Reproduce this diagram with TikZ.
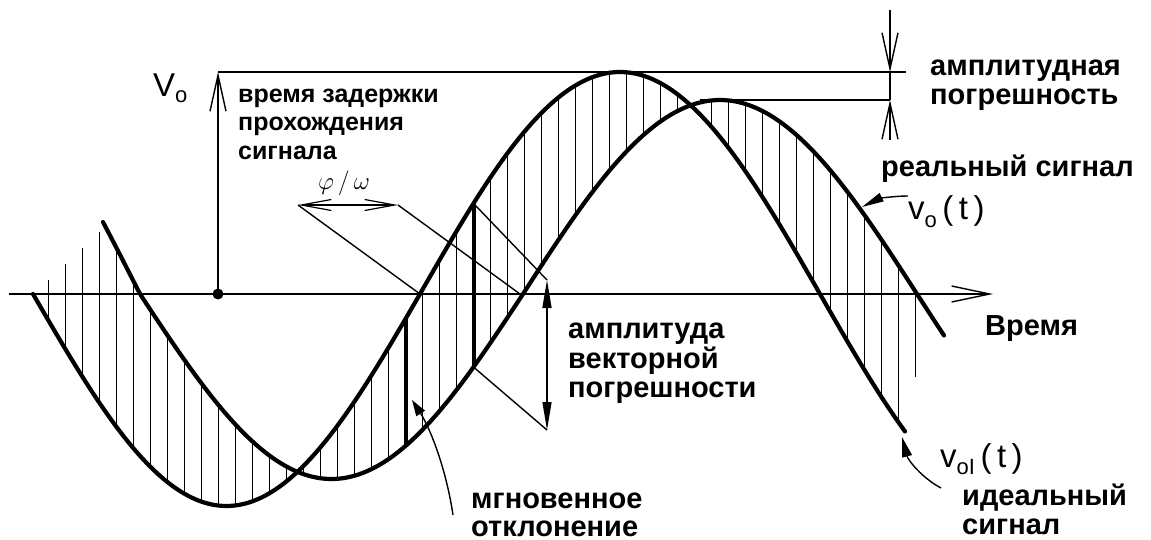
\documentclass[tikz,border=0pt]{standalone}
\usepackage{fontspec}
\setmainfont{Liberation Sans}
\usetikzlibrary{arrows.meta}
\begin{document}
\begin{tikzpicture}[x=1pt,y=-1pt,
  declare function={
    idsig(\t)=(\t<420)?(294+212*sin((\t-33)*0.465116)):(294-222*sin((\t-420)*0.45));
    resig(\t)=(\t<523)?(294+185*sin((\t-140)*0.469974)-(\t<140?(140-\t)*0.45:0)):(294-194*sin((\t-523)*0.456853));
  }]
\tikzset{
  curve/.style={line width=4.2pt,line cap=round,line join=round},
  hatchline/.style={line width=1.3pt},
  thickhatch/.style={line width=4pt},
  thinline/.style={line width=1.4pt},
  barb/.style={-{Straight Barb[length=36pt,width=16pt,line width=1.4pt]}},
  smallbarb/.style={{Straight Barb[length=30pt,width=11pt,line width=1.2pt]}-{Straight Barb[length=30pt,width=11pt,line width=1.2pt]}},
  lbl/.style={font=\bfseries\fontsize{29}{29}\selectfont,anchor=base west,inner sep=0pt},
  lblA/.style={font=\bfseries\fontsize{25}{25}\selectfont,anchor=base west,inner sep=0pt},
  sym/.style={font=\fontsize{33}{33}\selectfont,anchor=base west,inner sep=0pt},
  dot/.style={circle,fill=black,inner sep=0pt,minimum size=11pt},
}
\useasboundingbox (0,0) rectangle (1151,540);

% hatching
\foreach \k in {0,...,51}{
  \pgfmathsetmacro\hx{48.5+17*\k}
  \pgfmathsetmacro\ya{\hx<103 ? 280-(\hx-48.5)*0.95 : (\hx>905 ? resig(\hx) : idsig(\hx))}
  \pgfmathsetmacro\yb{\hx<103 ? idsig(\hx) : (\hx>905 ? 377 : resig(\hx))}
  \draw[hatchline] (\hx,\ya) -- (\hx,\yb);
}

% axes
\coordinate (axL) at (9,294);
\coordinate (axR) at (993,294);
\draw[thinline,-{Straight Barb[length=38pt,width=16pt,line width=1.4pt]}] (axL) -- (axR);
\node[dot] (orig) at (218,294) {};
\coordinate (vtop) at (218,72);
\coordinate (topR) at (906,72);
\draw[thinline,barb] (orig.center) -- (vtop);
\draw[thinline] (vtop) -- (topR);

% curves
\draw[curve] plot[domain=33:905,samples=260] (\x,{idsig(\x)});
\draw[curve] plot[domain=103:944,samples=260] (\x,{resig(\x)});

% amplitude error
\coordinate (ae1) at (890,10);
\coordinate (ae2) at (890,72);
\coordinate (ae3) at (890,100);
\coordinate (ae4) at (890,140);
\coordinate (pk2) at (700,100);
\draw[thinline,barb] (ae1) -- (ae2);
\draw[thinline] (ae2) -- (ae3);
\draw[thinline,barb] (ae4) -- (ae3);
\draw[thinline] (pk2) -- (ae3);

% phi/omega
\coordinate (pw1) at (298,205);
\coordinate (pw2) at (398,205);
\coordinate (z1) at (420,294);
\coordinate (z2) at (520,294);
\draw[thinline,smallbarb] (pw1) -- (pw2);
\draw[thinline] (pw1) -- (z1);
\draw[thinline] (pw2) -- (z2);
\node[inner sep=0pt,font=\fontsize{34}{34}\selectfont] (phiw) at (344,183) {$\varphi\,/\,\omega$};

% vector error
\coordinate (ve1) at (473.5,{idsig(473.5)});
\coordinate (ve2) at (473.5,{resig(473.5)});
\coordinate (vt) at (547,280);
\coordinate (vb) at (547,430);
\draw[thickhatch] (ve1) -- (ve2);
\draw[thinline] (ve1) -- (vt);
\draw[thinline] (ve2) -- (vb);
\draw[thinline,{Triangle[length=28pt,width=9pt]}-{Triangle[length=28pt,width=9pt]}] (vt) -- (vb);

% instantaneous deviation
\coordinate (id1) at (405.5,{idsig(405.5)});
\coordinate (id2) at (405.5,{resig(405.5)});
\draw[thickhatch] (id1) -- (id2);
\coordinate (mA) at (453,515);
\coordinate (mB) at (412,400);
\draw[thinline,-{Triangle[length=16pt,width=10pt]}] (mA) .. controls (446,468) and (430,428) .. (mB);

% ideal signal arrow
\coordinate (iA) at (941,488);
\coordinate (iB) at (902,437);
\draw[thinline,-{Triangle[length=20pt,width=10pt]}] (iA) .. controls (922,478) and (908,460) .. (iB);

% real signal arrow
\coordinate (rA) at (908,196);
\coordinate (rB) at (862,207);
\draw[thinline,-{Triangle[length=22pt,width=9pt]}] (rA) .. controls (893,196) and (878,199) .. (rB);

% labels
\node[sym] (Vo) at (153,97) {V\raisebox{-6pt}{\fontsize{22}{22}\selectfont o}};
\node[lblA] (d1) at (238,103) {время задержки};
\node[lblA] (d2) at (238,131) {прохождения};
\node[lblA] (d3) at (238,160) {сигнала};
\node[lbl] (a1) at (930,76) {амплитудная};
\node[lbl] (a2) at (930,105) {погрешность};
\node[lbl] (rs) at (881,177) {реальный сигнал};
\node[sym] (vo) at (908,220) {v\raisebox{-7pt}{\fontsize{22}{22}\selectfont o}\,(\,t\,)};
\node[lbl] (tm) at (985,335) {Время};
\node[lbl] (v1) at (568,338) {амплитуда};
\node[lbl] (v2) at (568,368) {векторной};
\node[lbl] (v3) at (568,397) {погрешности};
\node[sym] (voi) at (940,467) {v\raisebox{-7pt}{\fontsize{22}{22}\selectfont oI}\,(\,t\,)};
\node[lbl] (m1) at (471,508) {мгновенное};
\node[lbl] (m2) at (471,536) {отклонение};
\node[lbl] (i1) at (962,505) {идеальный};
\node[lbl] (i2) at (962,534) {сигнал};
\end{tikzpicture}
\end{document}
